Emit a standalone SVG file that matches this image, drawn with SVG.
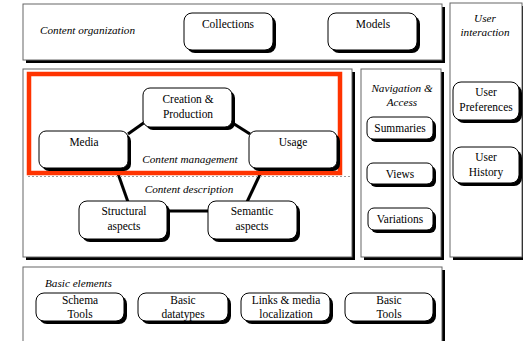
<svg xmlns="http://www.w3.org/2000/svg" width="527" height="341" viewBox="0 0 527 341" font-family="'Liberation Serif', 'DejaVu Serif', Times, serif">
<style>
.panel{fill:#fff;stroke:#666;stroke-width:1}
.psh{fill:#000}
.box{fill:#fff;stroke:#000;stroke-width:1}
.bsh{fill:#000}
text{font-family:'Liberation Serif','DejaVu Serif',Times,serif;fill:#000}
.t{font-size:13px;text-anchor:middle}
.i{font-size:11.2px;font-style:italic}
.ic{font-size:11.2px;font-style:italic;text-anchor:middle}
.con{stroke:#000;stroke-width:3;fill:none}
</style>
<rect width="527" height="341" fill="#fff"/>

<!-- panels -->
<g id="panel-organization">
<rect class="psh" x="26" y="7" width="419" height="56"/>
<rect class="panel" x="23" y="4" width="419" height="56"/>
<text class="i" x="40" y="34">Content organization</text>
</g>
<g id="panel-user">
<rect class="psh" x="453" y="6" width="70" height="254"/>
<rect class="panel" x="450" y="3" width="72" height="254"/>
<text class="ic" x="485" y="22">User</text>
<text class="ic" x="485" y="36">interaction</text>
</g>
<g id="panel-content">
<rect class="psh" x="26" y="72" width="329" height="188"/>
<rect class="panel" x="23" y="69" width="329" height="188"/>
</g>
<g id="panel-navigation">
<rect class="psh" x="364" y="72" width="80" height="188"/>
<rect class="panel" x="361" y="69" width="80" height="188"/>
<text class="ic" x="402" y="92">Navigation &amp;</text>
<text class="ic" x="402" y="106">Access</text>
</g>
<g id="panel-basic">
<rect class="psh" x="26" y="270" width="419" height="80"/>
<rect class="panel" x="23" y="267" width="419" height="80"/>
<text class="i" x="45" y="287">Basic elements</text>
</g>

<!-- connectors -->
<g id="connectors">
<line class="con" x1="128" y1="134" x2="145" y2="122"/>
<line class="con" x1="231" y1="122" x2="250" y2="134"/>
<line class="con" x1="116" y1="168" x2="128" y2="202"/>
<line class="con" x1="263" y1="168" x2="247" y2="202"/>
<line class="con" x1="167" y1="211" x2="209" y2="211"/>
</g>

<!-- content management highlight -->
<g id="highlight">
<line x1="28" y1="176.5" x2="352" y2="176.5" stroke="#999" stroke-width="1" stroke-dasharray="2,2"/>
<rect x="29" y="74" width="311" height="99" fill="none" stroke="#ff3300" stroke-width="4.5"/>
<text class="ic" x="190" y="163">Content management</text>
<text class="ic" x="189" y="193">Content description</text>
</g>

<!-- nodes -->
<g id="collections">
<rect class="bsh" x="187" y="16" width="89" height="37" rx="8"/>
<rect class="box" x="184" y="13" width="89" height="37" rx="8"/>
<text class="t" transform="translate(228,28) scale(.88,1)">Collections</text>
</g>
<g id="models">
<rect class="bsh" x="331" y="16" width="89" height="37" rx="8"/>
<rect class="box" x="328" y="13" width="89" height="37" rx="8"/>
<text class="t" transform="translate(373,28) scale(.88,1)">Models</text>
</g>
<g id="creation">
<rect class="bsh" x="146" y="91" width="89" height="39" rx="7"/>
<rect class="box" x="143" y="88" width="89" height="39" rx="7"/>
<text class="t" transform="translate(188,103) scale(.88,1)">Creation &amp;</text>
<text class="t" transform="translate(188,118) scale(.88,1)">Production</text>
</g>
<g id="media">
<rect class="bsh" x="42" y="134" width="89" height="37" rx="7"/>
<rect class="box" x="39" y="131" width="89" height="37" rx="7"/>
<text class="t" transform="translate(84,146) scale(.88,1)">Media</text>
</g>
<g id="usage">
<rect class="bsh" x="252" y="134" width="88" height="37" rx="7"/>
<rect class="box" x="249" y="131" width="88" height="37" rx="7"/>
<text class="t" transform="translate(293,146) scale(.88,1)">Usage</text>
</g>
<g id="structural">
<rect class="bsh" x="82" y="204" width="88" height="38" rx="8"/>
<rect class="box" x="79" y="201" width="88" height="38" rx="8"/>
<text class="t" transform="translate(124,215) scale(.88,1)">Structural</text>
<text class="t" transform="translate(124,230) scale(.88,1)">aspects</text>
</g>
<g id="semantic">
<rect class="bsh" x="211" y="204" width="89" height="38" rx="8"/>
<rect class="box" x="208" y="201" width="89" height="38" rx="8"/>
<text class="t" transform="translate(252,215) scale(.88,1)">Semantic</text>
<text class="t" transform="translate(252,230) scale(.88,1)">aspects</text>
</g>
<g id="summaries">
<rect class="bsh" x="370" y="120" width="66" height="22" rx="6"/>
<rect class="box" x="367" y="117" width="66" height="22" rx="6"/>
<text class="t" transform="translate(400,132) scale(.88,1)">Summaries</text>
</g>
<g id="views">
<rect class="bsh" x="370" y="166" width="66" height="21" rx="6"/>
<rect class="box" x="367" y="163" width="66" height="21" rx="6"/>
<text class="t" transform="translate(400,178) scale(.88,1)">Views</text>
</g>
<g id="variations">
<rect class="bsh" x="371" y="211" width="65" height="22" rx="6"/>
<rect class="box" x="368" y="208" width="65" height="22" rx="6"/>
<text class="t" transform="translate(400,223) scale(.88,1)">Variations</text>
</g>
<g id="preferences">
<rect class="bsh" x="456" y="85" width="66" height="38" rx="8"/>
<rect class="box" x="453" y="82" width="66" height="38" rx="8"/>
<text class="t" transform="translate(486,96) scale(.88,1)">User</text>
<text class="t" transform="translate(486,111) scale(.88,1)">Preferences</text>
</g>
<g id="history">
<rect class="bsh" x="456" y="150" width="66" height="36" rx="8"/>
<rect class="box" x="453" y="147" width="66" height="36" rx="8"/>
<text class="t" transform="translate(486,161) scale(.88,1)">User</text>
<text class="t" transform="translate(486,176) scale(.88,1)">History</text>
</g>
<g id="schema">
<rect class="bsh" x="39" y="296" width="88" height="28" rx="8"/>
<rect class="box" x="36" y="293" width="88" height="28" rx="8"/>
<text class="t" transform="translate(80,304) scale(.88,1)">Schema</text>
<text class="t" transform="translate(80,318) scale(.88,1)">Tools</text>
</g>
<g id="datatypes">
<rect class="bsh" x="141" y="296" width="90" height="28" rx="8"/>
<rect class="box" x="138" y="293" width="90" height="28" rx="8"/>
<text class="t" transform="translate(183,304) scale(.88,1)">Basic</text>
<text class="t" transform="translate(183,318) scale(.88,1)">datatypes</text>
</g>
<g id="links">
<rect class="bsh" x="244" y="296" width="89" height="28" rx="8"/>
<rect class="box" x="241" y="293" width="89" height="28" rx="8"/>
<text class="t" transform="translate(286,304) scale(.88,1)">Links &amp; media</text>
<text class="t" transform="translate(286,318) scale(.88,1)">localization</text>
</g>
<g id="basictools">
<rect class="bsh" x="348" y="296" width="88" height="28" rx="8"/>
<rect class="box" x="345" y="293" width="88" height="28" rx="8"/>
<text class="t" transform="translate(389,304) scale(.88,1)">Basic</text>
<text class="t" transform="translate(389,318) scale(.88,1)">Tools</text>
</g>
</svg>
